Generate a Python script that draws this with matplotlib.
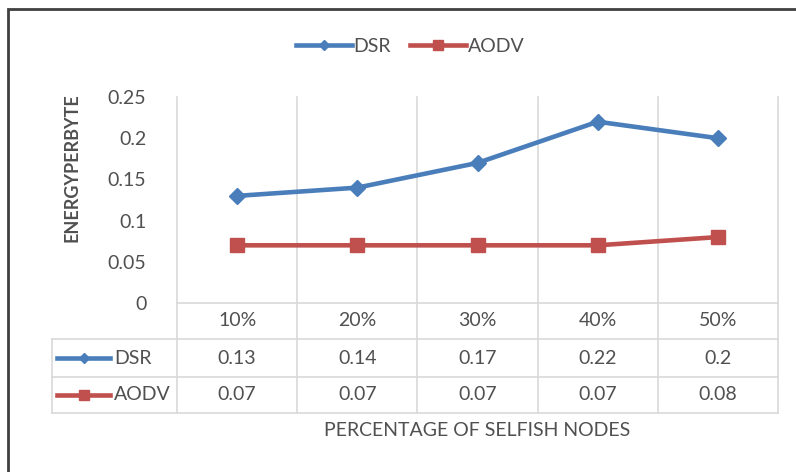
import numpy as np
import matplotlib.pyplot as plt
from matplotlib.transforms import blended_transform_factory
from matplotlib.patches import Rectangle

# dados
categorias = ["10%", "20%", "30%", "40%", "50%"]
dsr = [0.13, 0.14, 0.17, 0.22, 0.2]
aodv = [0.07, 0.07, 0.07, 0.07, 0.08]
dsr_txt = ["0.13", "0.14", "0.17", "0.22", "0.2"]
aodv_txt = ["0.07", "0.07", "0.07", "0.07", "0.08"]
yticks = [0, 0.05, 0.1, 0.15, 0.2, 0.25]
ylabels = ["0", "0.05", "0.1", "0.15", "0.2", "0.25"]

azul = "#4a7ebb"
vermelho = "#c0504d"
cinza = "#d9d9d9"
texto = "#505050"
fs = 14

plt.rcParams['font.family'] = ['Lato', 'DejaVu Sans']

W, H = 796, 472
fig = plt.figure(figsize=(W / 100, H / 100), dpi=100)
ax = fig.add_axes([177 / W, 1 - 303 / H, (778 - 177) / W, (303 - 97) / H])

x = np.arange(len(categorias)) + 0.5
ax.plot(x, dsr, color=azul, lw=3.3, marker="D", ms=8.5, label="DSR", clip_on=False)
ax.plot(x, aodv, color=vermelho, lw=3.3, marker="s", ms=10.5, label="AODV", clip_on=False)

ax.set_xlim(0, 5)
ax.set_ylim(0, 0.25)
ax.set_yticks(yticks)
ax.set_yticklabels(ylabels)
ax.set_xticks([])
ax.tick_params(axis="y", length=0, pad=22, labelsize=fs, labelcolor=texto)
for s in ax.spines.values():
    s.set_visible(False)

# tabela de dados
tr = blended_transform_factory(ax.transData, ax.transAxes)
y1 = -(339 - 303) / 206
y2 = -(377 - 303) / 206
y3 = -(413 - 303) / 206
xl = (52 - 177) / 120.2
for xv in range(6):
    ax.plot([xv, xv], [y3, 1], color=cinza, lw=1.2, transform=tr, clip_on=False, zorder=0)
ax.plot([0, 5], [0, 0], color=cinza, lw=1.2, transform=tr, clip_on=False, zorder=0)
for yv in [y1, y2, y3]:
    ax.plot([xl, 5], [yv, yv], color=cinza, lw=1.2, transform=tr, clip_on=False, zorder=0)
ax.plot([xl, xl], [y1, y3], color=cinza, lw=1.2, transform=tr, clip_on=False, zorder=0)

for i in range(len(categorias)):
    ax.text(x[i], y1 / 2, categorias[i], transform=tr, ha="center", va="center", fontsize=fs, color=texto)
    ax.text(x[i], (y1 + y2) / 2, dsr_txt[i], transform=tr, ha="center", va="center", fontsize=fs, color=texto)
    ax.text(x[i], (y2 + y3) / 2, aodv_txt[i], transform=tr, ha="center", va="center", fontsize=fs, color=texto)

hx0 = (57 - 177) / 120.2
hx1 = (110 - 177) / 120.2
for yy, cor, mk, m, nome in [((y1 + y2) / 2, azul, "D", 5, "DSR"), ((y2 + y3) / 2, vermelho, "s", 7, "AODV")]:
    ax.plot([hx0, hx1], [yy, yy], color=cor, lw=3.3, transform=tr, clip_on=False)
    ax.plot([(hx0 + hx1) / 2], [yy], color=cor, marker=mk, ms=m, transform=tr, clip_on=False)
    ax.text((114 - 177) / 120.2, yy, nome, transform=tr, ha="left", va="center", fontsize=fs, color=texto)

fig.text(72 / W, 1 - 168 / H, "ENERGYPERBYTE", rotation=90, ha="center", va="center",
         fontsize=fs - 1, fontweight="bold", color=texto)
fig.text(477 / W, 1 - 431 / H, "PERCENTAGE OF SELFISH NODES", ha="center", va="center",
         fontsize=fs, color=texto)

fig.legend(loc="center", bbox_to_anchor=(410 / W, 1 - 46 / H), ncol=2, frameon=False,
           handlelength=2.9, handletextpad=0.05, columnspacing=1.0, fontsize=fs,
           labelcolor=texto, markerscale=0.65)

fig.patches.append(Rectangle((8 / W, -0.1), 1.2, 1.1 - 9 / H, transform=fig.transFigure,
                             fill=False, edgecolor="#404040", lw=2))

fig.savefig("out.png", dpi=100)
